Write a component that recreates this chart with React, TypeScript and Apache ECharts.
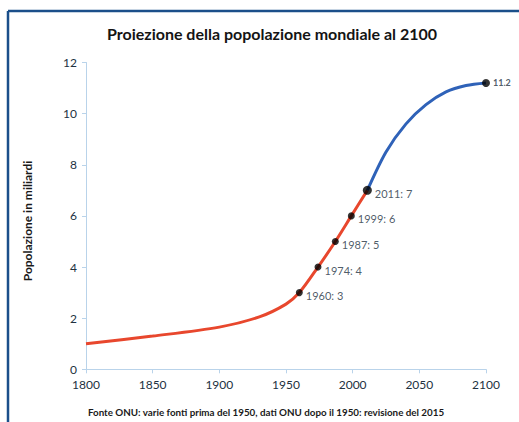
import React, { useEffect, useRef } from "react";
import * as echarts from "echarts";

const titleText = "Proiezione della popolazione mondiale al 2100";
const yAxisName = "Popolazione in miliardi";
const footerText = "Fonte ONU: varie fonti prima del 1950, dati ONU dopo il 1950: revisione del 2015";

// historical (red) curve: [year, billions]
const histYears = [1800, 1850, 1900, 1930, 1950, 1960, 1974, 1987, 1999, 2011];
const histValues = [1.0, 1.3, 1.65, 2.05, 2.55, 3, 4, 5, 6, 7];

// projection (blue) curve
const projYears = [2011, 2025, 2040, 2055, 2070, 2085, 2100];
const projValues = [7, 8.5, 9.6, 10.35, 10.85, 11.1, 11.2];

// milestone markers
const markYears = [1960, 1974, 1987, 1999, 2011];
const markValues = [3, 4, 5, 6, 7];
const endYear = 2100;
const endValue = 11.2;

const FONT = "Lato, 'Open Sans', sans-serif";
const TEXT = "#22313f";

export default function App() {
  const ref = useRef<HTMLDivElement>(null);
  useEffect(() => {
    if (!ref.current) return;
    const chart = echarts.init(ref.current, undefined, { renderer: "svg" });
    chart.setOption({
      animation: false,
      backgroundColor: "#ffffff",
      textStyle: { fontFamily: FONT },
      title: {
        text: titleText,
        left: 267,
        top: 20,
        textAlign: "center",
        textStyle: { fontFamily: FONT, fontSize: 16, fontWeight: "bold", color: "#141414" },
      },
      graphic: [
        { type: "line", shape: { x1: 8, y1: 11, x2: 519, y2: 11 }, style: { stroke: "#1b4f8a", lineWidth: 2.5 } },
        { type: "line", shape: { x1: 8, y1: 11, x2: 8, y2: 422 }, style: { stroke: "#1b4f8a", lineWidth: 2.5 } },
        {
          type: "text",
          x: 266,
          y: 412,
          style: {
            text: footerText,
            fontFamily: FONT,
            fontSize: 9.8,
            fontWeight: "bold",
            fill: "#1a1a1a",
            align: "center",
            verticalAlign: "middle",
          },
        },
        {
          type: "text",
          x: 27,
          y: 221,
          rotation: Math.PI / 2,
          style: {
            text: yAxisName,
            fontFamily: FONT,
            fontSize: 12,
            fontWeight: "bold",
            fill: "#1a1a1a",
            align: "center",
            verticalAlign: "middle",
          },
        },
      ],
      grid: { left: 86, right: 33, top: 62.5, bottom: 52.7 },
      xAxis: {
        type: "value",
        min: 1800,
        max: 2100,
        interval: 50,
        axisLine: { show: true, lineStyle: { color: "#b9d3ea", width: 1 } },
        axisTick: { show: true, length: 4, lineStyle: { color: "#b9d3ea" } },
        splitLine: { show: false },
        axisLabel: { color: TEXT, fontSize: 12, fontFamily: FONT, margin: 9, formatter: (v: number) => String(v) },
      },
      yAxis: {
        type: "value",
        min: 0,
        max: 12,
        interval: 2,
        axisLine: { show: true, lineStyle: { color: "#b9d3ea", width: 1 } },
        axisTick: { show: true, length: 4, lineStyle: { color: "#b9d3ea" } },
        splitLine: { show: false },
        axisLabel: { color: TEXT, fontSize: 12, fontFamily: FONT, margin: 9 },
      },
      series: [
        {
          type: "line",
          data: histYears.map((y, i) => [y, histValues[i]]),
          smooth: 0.3,
          showSymbol: false,
          lineStyle: { color: "#e8472d", width: 3 },
          z: 2,
        },
        {
          type: "line",
          data: projYears.map((y, i) => [y, projValues[i]]),
          smooth: 0.3,
          showSymbol: false,
          lineStyle: { color: "#2f62b8", width: 3 },
          z: 2,
        },
        {
          type: "scatter",
          data: markYears.map((y, i) => [y, markValues[i]]),
          symbol: "circle",
          symbolSize: (v: number[]) => (v[0] === 2011 ? 9 : 7),
          itemStyle: { color: "#000000" },
          z: 3,
          label: {
            show: true,
            position: "right",
            offset: [-1, 3],
            distance: 4,
            color: TEXT,
            fontSize: 11,
            fontFamily: FONT,
            formatter: (p: any) => `${p.value[0]}: ${p.value[1]}`,
          },
        },
        {
          type: "scatter",
          data: [[endYear, endValue]],
          symbol: "circle",
          symbolSize: 8,
          itemStyle: { color: "#000000" },
          z: 3,
          label: {
            show: true,
            position: "right",
            distance: 3,
            color: TEXT,
            fontSize: 9,
            fontWeight: "bold",
            fontFamily: FONT,
            formatter: (p: any) => `${p.value[1]}`,
          },
        },
      ],
    });
    return () => chart.dispose();
  }, []);
  return (
    <div
      ref={ref}
      style={{ position: "fixed", left: 0, top: 0, width: 519, height: 422, background: "#fff" }}
    />
  );
}
